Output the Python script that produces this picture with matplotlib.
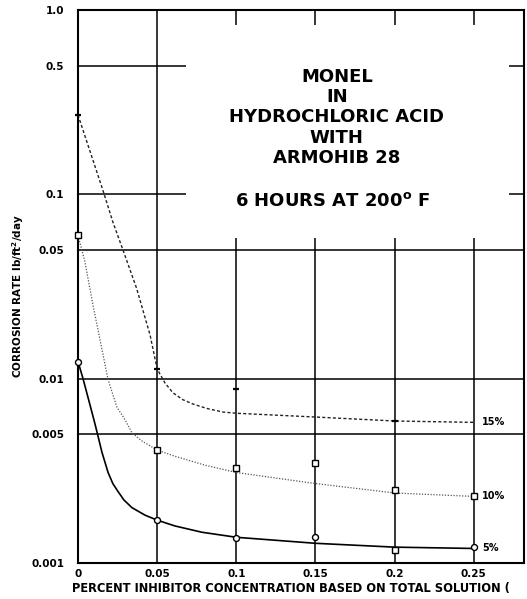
import matplotlib
matplotlib.use('Agg')
import matplotlib.pyplot as plt

# valori (curve tracciate a mano)
conc_ticks = [0, 0.05, 0.1, 0.15, 0.2, 0.25]
conc_labels = ['0', '0.05', '0.1', '0.15', '0.2', '0.25']
rate_ticks = [0.001, 0.005, 0.01, 0.05, 0.1, 0.5, 1.0]
rate_labels = ['0.001', '0.005', '0.01', '0.05', '0.1', '0.5', '1.0']

# 15% HCl
c15_x = [0, 0.0158, 0.022, 0.0284, 0.037, 0.0455, 0.05, 0.0549, 0.0599, 0.0662, 0.0725,
         0.0814, 0.0915, 0.1, 0.15, 0.2, 0.25]
c15_y = [0.27, 0.105, 0.071, 0.05, 0.031, 0.0173, 0.0113, 0.0095, 0.0084, 0.0077, 0.0073,
         0.0069, 0.0066, 0.0065, 0.0062, 0.0059, 0.0058]
p15_x = [0, 0.05, 0.1, 0.2]
p15_y = [0.27, 0.0113, 0.0088, 0.0059]

# 10% HCl
c10_x = [0, 0.0044, 0.0095, 0.0139, 0.019, 0.0246, 0.0297, 0.034, 0.0403, 0.05, 0.0612,
         0.08, 0.1, 0.15, 0.2, 0.25]
c10_y = [0.060, 0.043, 0.025, 0.0163, 0.0099, 0.0070, 0.0060, 0.0051, 0.0046, 0.0041, 0.0038,
         0.0034, 0.0031, 0.0027, 0.0024, 0.0023]
p10_x = [0, 0.05, 0.1, 0.15, 0.2, 0.25]
p10_y = [0.060, 0.0041, 0.0033, 0.0035, 0.0025, 0.0023]

# 5% HCl
c5_x = [0, 0.0032, 0.0076, 0.0107, 0.0126, 0.0151, 0.019, 0.022, 0.0252, 0.029, 0.034,
        0.0423, 0.05, 0.0612, 0.0782, 0.1, 0.15, 0.2, 0.25]
c5_y = [0.0124, 0.010, 0.0072, 0.0057, 0.0049, 0.0040, 0.0031, 0.0027, 0.00245, 0.0022, 0.0020,
        0.00182, 0.00171, 0.00159, 0.00147, 0.00138, 0.00128, 0.00122, 0.0012]
p5_x = [0, 0.05, 0.1, 0.15, 0.2, 0.25]
p5_y = [0.0124, 0.00171, 0.00137, 0.00138, 0.00118, 0.00122]
p5_m = ['o', 'o', 'o', 'o', 's', 'o']

fig = plt.figure(figsize=(5.27, 5.99), dpi=100)
ax = fig.add_axes([0.148, 0.06, 0.846, 0.923])
ax.set_yscale('log')
ax.set_xlim(0, 0.2816)
ax.set_ylim(0.001, 1.0)

# griglia disegnata a mano (interrotta dal riquadro del titolo)
glw = 1.1
for yv in [0.005, 0.01, 0.05]:
    ax.hlines(yv, 0, 0.2816, color='black', lw=glw)
for yv in [0.1, 0.5]:
    ax.hlines(yv, 0, 0.068, color='black', lw=glw)
    ax.hlines(yv, 0.2721, 0.2816, color='black', lw=glw)
ax.vlines(0.05, 0.001, 1.0, color='black', lw=glw)
for xv in [0.1, 0.15, 0.2, 0.25]:
    ax.vlines(xv, 0.001, 0.058, color='black', lw=glw)
    ax.vlines(xv, 0.83, 1.0, color='black', lw=glw)

# curve
ax.plot(c15_x, c15_y, color='#222222', lw=1.0, ls=(0, (2.2, 1.6)), clip_on=False)
ax.plot(p15_x, p15_y, ls='none', marker='_', ms=4, mew=1.6, color='black', clip_on=False)

ax.plot(c10_x, c10_y, color='#555555', lw=0.9, ls=(0, (1, 1.3)), clip_on=False)
ax.plot(p10_x, p10_y, ls='none', marker='s', ms=4.5, mfc='white', mec='black', mew=1.0,
        clip_on=False, zorder=3)

ax.plot(c5_x, c5_y, color='black', lw=1.2, clip_on=False)
for x, y, m in zip(p5_x, p5_y, p5_m):
    ax.plot(x, y, ls='none', marker=m, ms=4.3, mfc='white', mec='black', mew=1.0,
            clip_on=False, zorder=3)

# etichette delle curve
lab_kw = dict(fontsize=7, fontweight='bold', va='center', ha='left',
              textcoords='offset points', xytext=(6, 0))
ax.annotate('15%', (c15_x[-1], c15_y[-1]), **lab_kw)
ax.annotate('10%', (c10_x[-1], c10_y[-1]), **lab_kw)
ax.annotate('5%', (c5_x[-1], c5_y[-1]), **lab_kw)

# assi
ax.set_yticks(rate_ticks)
ax.set_yticklabels(rate_labels)
ax.yaxis.set_minor_locator(matplotlib.ticker.NullLocator())
ax.set_xticks(conc_ticks)
ax.set_xticklabels(conc_labels)
ax.tick_params(axis='y', length=0, pad=10, labelsize=7.5)
ax.tick_params(axis='x', length=0, pad=4, labelsize=7.5)
for lab in ax.get_xticklabels() + ax.get_yticklabels():
    lab.set_fontweight('bold')
for sp in ax.spines.values():
    sp.set_linewidth(1.5)

fig.text(0.034, 0.505, 'CORROSION RATE lb/ft$^\\mathbf{2}$/day', rotation=90,
         ha='center', va='center', fontsize=7.5, fontweight='bold')
fig.text(0.137, 0.018, 'PERCENT INHIBITOR CONCENTRATION BASED ON TOTAL SOLUTION (',
         ha='left', va='center', fontsize=8.3, fontweight='bold')

# riquadro del titolo
title_lines = ['MONEL', 'IN', 'HYDROCHLORIC ACID', 'WITH', 'ARMOHIB 28']
title_y = [0.8715, 0.838, 0.8047, 0.7696, 0.7362]
for t, yy in zip(title_lines, title_y):
    fig.text(0.639, yy, t, ha='center', va='center', fontsize=13, fontweight='bold')
fig.text(0.632, 0.6644, '6 HOURS AT 200$^{\\mathbf{o}}$ F', ha='center', va='center',
         fontsize=13, fontweight='bold')

plt.savefig('out.png', dpi=100)
